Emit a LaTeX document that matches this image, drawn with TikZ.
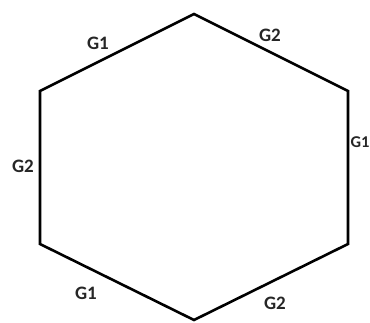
\documentclass[tikz,border=0pt]{standalone}
\usepackage{fontspec}
\setmainfont{Carlito}
\usepackage{tikz}
\usetikzlibrary{positioning}
\tikzset{
    % hexagon sides
    side/.style={
        draw=black,
        line width=2.6pt,
        line join=miter
    },
    % G1 / G2 labels
    gate label/.style={
        font=\fontsize{19}{19}\selectfont\bfseries,
        text=black!85,
        inner sep=0pt
    }
}
\begin{document}
\begin{tikzpicture}[x=1pt, y=-1pt]
        \useasboundingbox (0,0) rectangle (370,322);

        % Corners
        \coordinate (top) at (194,14);
        \coordinate (ur) at (348,91);
        \coordinate (lr) at (348,244);
        \coordinate (bot) at (194,320);
        \coordinate (ll) at (40,244);
        \coordinate (ul) at (40,91);

        % Hexagon
        \draw[side] (top) -- (ur) -- (lr) -- (bot) -- (ll) -- (ul) -- cycle;

        % Labels
        \node[gate label] (g1a) at (98,43) {G1};
        \node[gate label] (g2a) at (270,35) {G2};
        \node[gate label, font=\fontsize{16.5}{16.5}\selectfont\bfseries, anchor=west] (g1b) at (350.5,142) {G1};
        \node[gate label] (g2b) at (23,166) {G2};
        \node[gate label] (g1c) at (86,293) {G1};
        \node[gate label] (g2c) at (275,303) {G2};
    \end{tikzpicture}
\end{document}
